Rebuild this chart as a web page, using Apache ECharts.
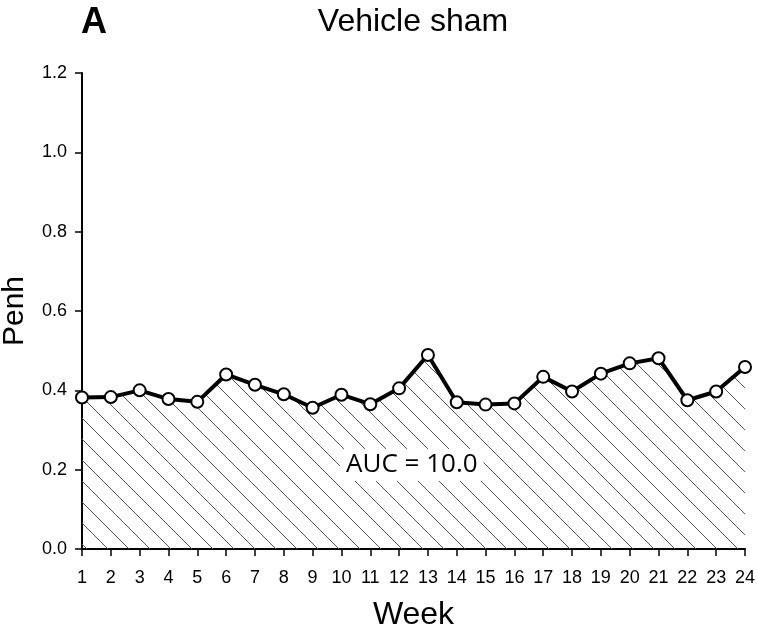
<!DOCTYPE html>
<html>
<head>
<meta charset="utf-8">
<script src="https://cdn.jsdelivr.net/npm/echarts@6/dist/echarts.min.js"></script>
<style>
  html, body { margin: 0; padding: 0; background: #fff; }
  #chart { width: 757px; height: 631px; }
</style>
</head>
<body>
<div id="chart"></div>
<script>
// Weekly Penh readings for the vehicle sham group
const weeks = [1, 2, 3, 4, 5, 6, 7, 8, 9, 10, 11, 12, 13, 14, 15, 16, 17, 18, 19, 20, 21, 22, 23, 24];
const penh = [0.382, 0.383, 0.400, 0.378, 0.371, 0.440, 0.414, 0.390, 0.356, 0.389, 0.365, 0.405,
              0.489, 0.370, 0.364, 0.367, 0.434, 0.397, 0.442, 0.468, 0.481, 0.375, 0.397, 0.459];
const yTicks = [0.0, 0.2, 0.4, 0.6, 0.8, 1.0, 1.2];
const panelLetter = 'A';
const titleText = 'Vehicle sham';
const aucText = 'AUC = 10.0';

// Diagonal hatch tile for the area under the curve
function hatchPattern(step) {
  const c = document.createElement('canvas');
  c.width = step; c.height = step;
  const g = c.getContext('2d');
  g.strokeStyle = '#555';
  g.lineWidth = 1;
  g.beginPath();
  for (let k = -1; k <= 1; k++) {
    g.moveTo(k * step, 0);
    g.lineTo(k * step + step, step);
  }
  g.stroke();
  return c;
}

const chart = echarts.init(document.getElementById('chart'), null, { renderer: 'canvas' });
const font = 'Liberation Sans, Arial, sans-serif';

chart.setOption({
  animation: false,
  backgroundColor: '#fff',
  grid: { left: 82, right: 12, top: 73, bottom: 82, containLabel: false, outerBoundsMode: 'none' },
  title: [
    { text: panelLetter, left: 76, top: 0,
      textStyle: { fontFamily: font, fontSize: 36, fontWeight: 'bold', color: '#000' } },
    { text: titleText, left: 408, top: 1, textAlign: 'center',
      textStyle: { fontFamily: font, fontSize: 32, fontWeight: 'normal', color: '#000' } }
  ],
  xAxis: {
    type: 'value', min: 1, max: 24, interval: 1,
    name: 'Week', nameLocation: 'middle', nameGap: 50,
    nameTextStyle: { fontFamily: font, fontSize: 32, color: '#000' },
    axisLine: { show: true, onZero: false, lineStyle: { color: '#000', width: 2 } },
    axisTick: { show: true, length: 7, lineStyle: { color: '#000', width: 1.5 } },
    axisLabel: { fontFamily: font, fontSize: 18, color: '#000', margin: 20,
      formatter: v => weeks.includes(v) ? String(v) : '' },
    splitLine: { show: false }
  },
  yAxis: {
    type: 'value', min: 0, max: 1.2, interval: 0.2,
    name: 'Penh', nameLocation: 'middle', nameGap: 52, nameRotate: 90,
    nameTextStyle: { fontFamily: font, fontSize: 30, color: '#000' },
    axisLine: { show: true, lineStyle: { color: '#000', width: 2 } },
    axisTick: { show: true, length: 7, lineStyle: { color: '#000', width: 1.5 } },
    axisLabel: { fontFamily: font, fontSize: 18, color: '#000', margin: 15,
      formatter: v => yTicks.find(t => Math.abs(t - v) < 1e-9).toFixed(1) },
    splitLine: { show: false }
  },
  series: [{
    type: 'line',
    data: weeks.map((w, i) => [w, penh[i]]),
    symbol: 'circle',
    symbolSize: 12,
    showAllSymbol: true,
    z: 5,
    lineStyle: { color: '#000', width: 4 },
    itemStyle: { color: '#fff', borderColor: '#000', borderWidth: 2 },
    areaStyle: { color: { image: hatchPattern(21), repeat: 'repeat' }, opacity: 1, origin: 'start' }
  }],
  graphic: [{
    type: 'text',
    left: 340, top: 449, z: 10,
    style: {
      text: aucText,
      font: '26px "Open Sans", sans-serif',
      fill: '#000',
      backgroundColor: '#fff',
      padding: [3, 6, 3, 6]
    }
  }]
});
</script>
</body>
</html>
